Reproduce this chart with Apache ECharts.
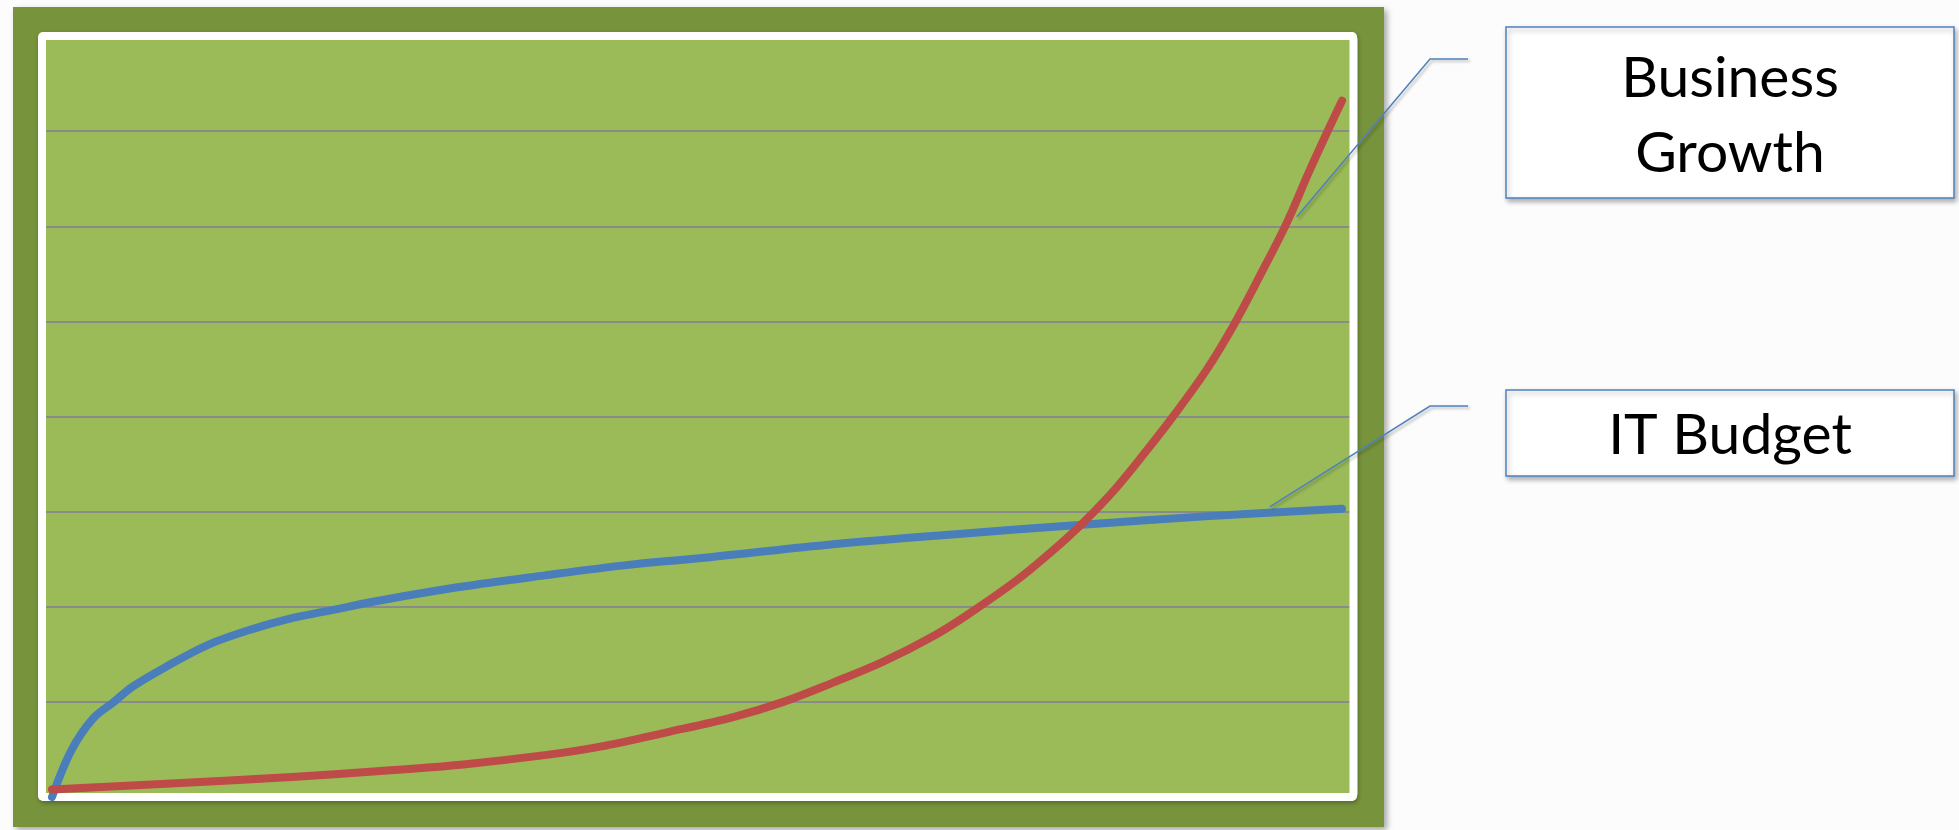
<!DOCTYPE html>
<html>
<head>
<meta charset="utf-8">
<script src="https://cdn.jsdelivr.net/npm/echarts@6/dist/echarts.min.js"></script>
<style>
html,body{margin:0;padding:0;background:#fcfcfc;}
#c{width:1959px;height:830px;}
</style>
</head>
<body>
<div id="c"></div>
<script>
// ---- data ----
const yTicks = [0, 1, 2, 3, 4, 5, 6, 7, 8];
const budgetX = [0, 1.5, 3.15, 4.8, 6.25, 8.85, 12.1, 15.4, 18.6, 21.9, 25.2, 31.7, 38.2, 44.7, 50.2, 60.0, 69.8, 79.6, 89.4, 100];
const budgetY = [0, 0.49, 0.82, 1.00, 1.16, 1.37, 1.60, 1.76, 1.88, 1.97, 2.06, 2.21, 2.33, 2.44, 2.51, 2.65, 2.76, 2.86, 2.95, 3.03];
const growthX = [0, 8.85, 18.6, 25.2, 31.7, 38.2, 42.5, 47.65, 52.8, 56.7, 60.5, 64.4, 68.3, 70.9, 74.8, 77.4, 79.9, 82.5, 84.9, 86.9, 89.5, 91.6, 93.6, 95.7, 97.5, 99.3, 100];
const growthY = [0.08, 0.14, 0.21, 0.27, 0.34, 0.44, 0.53, 0.68, 0.84, 1.00, 1.20, 1.42, 1.69, 1.91, 2.28, 2.57, 2.88, 3.25, 3.65, 4.00, 4.49, 4.96, 5.47, 6.03, 6.59, 7.12, 7.32];
const seriesNames = ['IT Budget', 'Business Growth'];
const growthLabelLines = ['Business', 'Growth'];
const budgetLabel = 'IT Budget';
// leader anchor points on the curves (data coords)
const growthAnchor = [96.5, 6.1];
const budgetAnchor = [94.4, 3.05];

const budgetData = budgetX.map((x, i) => [x, budgetY[i]]);
const growthData = growthX.map((x, i) => [x, growthY[i]]);

const chart = echarts.init(document.getElementById('c'), null, {renderer: 'canvas'});

const boxStyle = {fill: '#ffffff', stroke: '#4F81BD', lineWidth: 1.5,
  shadowBlur: 5, shadowOffsetX: 2, shadowOffsetY: 3, shadowColor: 'rgba(0,0,0,0.3)'};
const txtStyle = (id, t, x, y) => ({id: id, type: 'text', z: 20, style: {text: t, x: x, y: y,
  font: '57px Lato', fill: '#000', textAlign: 'center', textVerticalAlign: 'middle'}});

const option = {
  backgroundColor: '#fcfcfc',
  animation: false,
  grid: {left: 46, right: 609, top: 36, bottom: 33, containLabel: false},
  xAxis: {type: 'value', min: -0.465, max: 100.62, show: true,
    axisLine: {show: false}, axisTick: {show: false}, axisLabel: {show: false}, splitLine: {show: false}},
  yAxis: {type: 'value', min: yTicks[0], max: yTicks[yTicks.length - 1], interval: 1,
    axisLine: {show: false}, axisTick: {show: false}, axisLabel: {show: false},
    splitLine: {show: true, lineStyle: {color: '#8a8a8a', width: 2}}},
  series: [
    {name: seriesNames[0], type: 'line', data: budgetData, showSymbol: false, symbol: 'none',
      smooth: 0.35, z: 5,
      lineStyle: {color: '#4A7EBB', width: 8, cap: 'round', join: 'round'}},
    {name: seriesNames[1], type: 'line', data: growthData, showSymbol: false, symbol: 'none',
      smooth: 0.35, z: 6,
      lineStyle: {color: '#BE4B48', width: 8, cap: 'round', join: 'round'}}
  ],
  graphic: [
    {id: 'frame', type: 'rect', z: -100, shape: {x: 13, y: 7, width: 1371, height: 820},
      style: {fill: '#77933C', shadowBlur: 6, shadowOffsetX: 3, shadowOffsetY: 3, shadowColor: 'rgba(0,0,0,0.35)'}},
    {id: 'panel', type: 'rect', z: -99, shape: {x: 38, y: 32, width: 1319, height: 769, r: 5},
      style: {fill: '#ffffff', shadowBlur: 4, shadowOffsetX: 1, shadowOffsetY: 2, shadowColor: 'rgba(0,0,0,0.3)'}},
    {id: 'plot', type: 'rect', z: -98, shape: {x: 46, y: 40, width: 1304, height: 753},
      style: {fill: '#9BBB59'}},
    {id: 'ring', type: 'rect', z: 1, shape: {x: 42, y: 36, width: 1311.5, height: 761, r: 3},
      style: {fill: 'none', stroke: '#ffffff', lineWidth: 8}},
    {id: 'box1', type: 'rect', z: 19, shape: {x: 1506, y: 27, width: 448, height: 171}, style: boxStyle},
    {id: 'box2', type: 'rect', z: 19, shape: {x: 1506, y: 390, width: 448, height: 86}, style: boxStyle},
    txtStyle('t1', growthLabelLines[0], 1730, 79),
    txtStyle('t2', growthLabelLines[1], 1730, 154),
    txtStyle('t3', budgetLabel, 1730, 436)
  ]
};
chart.setOption(option);

const gp = chart.convertToPixel({gridIndex: 0}, growthAnchor);
const bp = chart.convertToPixel({gridIndex: 0}, budgetAnchor);
const leaderStyle = {stroke: '#4F81BD', lineWidth: 1.5, fill: 'none',
  shadowBlur: 3, shadowOffsetX: 2, shadowOffsetY: 2, shadowColor: 'rgba(0,0,0,0.3)'};
chart.setOption({graphic: [
  {id: 'lead1', type: 'polyline', z: 18, shape: {points: [[1468, 59], [1430, 59], gp]}, style: leaderStyle},
  {id: 'lead2', type: 'polyline', z: 18, shape: {points: [[1468, 406], [1430, 406], bp]}, style: leaderStyle}
]});
</script>
</body>
</html>
